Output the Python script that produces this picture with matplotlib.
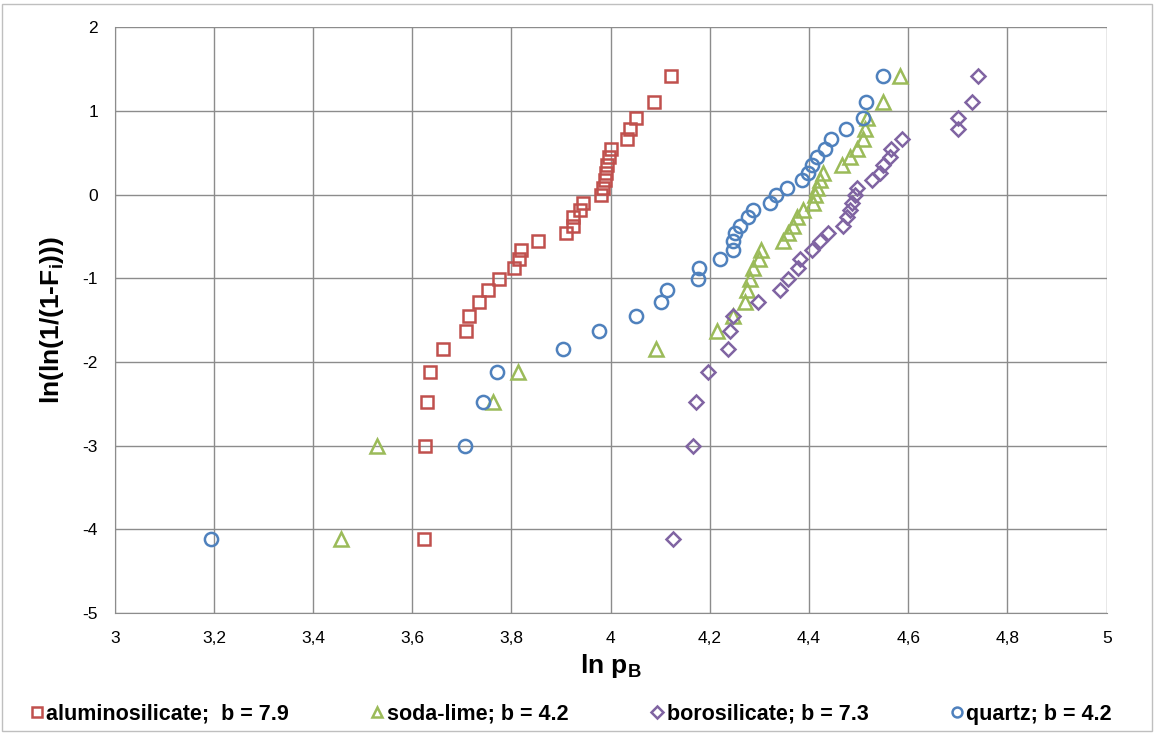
import matplotlib
matplotlib.use("Agg")
import matplotlib.pyplot as plt
from matplotlib.patches import Rectangle

plt.rcParams['font.family'] = ['Liberation Sans', 'DejaVu Sans']
plt.rcParams['mathtext.fontset'] = 'custom'
plt.rcParams['mathtext.rm'] = 'Liberation Sans'
plt.rcParams['mathtext.bf'] = 'Liberation Sans:bold'
plt.rcParams['axes.unicode_minus'] = False

# shared ranks, ln(ln(1/(1-Fi)))
y_rank = [-4.12, -3.00, -2.48, -2.12, -1.85, -1.63, -1.45, -1.28, -1.14, -1.01,
          -0.88, -0.77, -0.66, -0.56, -0.46, -0.37, -0.27, -0.18, -0.10, -0.01,
          0.08, 0.17, 0.26, 0.35, 0.45, 0.55, 0.66, 0.78, 0.92, 1.11, 1.42]

x_alumino = [3.624, 3.626, 3.630, 3.636, 3.661, 3.708, 3.715, 3.734, 3.753, 3.775,
             3.806, 3.815, 3.820, 3.854, 3.910, 3.923, 3.925, 3.938, 3.945, 3.980,
             3.985, 3.988, 3.990, 3.993, 3.996, 4.000, 4.032, 4.039, 4.052, 4.087, 4.122]
x_soda = [3.456, 3.529, 3.763, 3.814, 4.091, 4.214, 4.247, 4.271, 4.274, 4.281,
          4.287, 4.298, 4.304, 4.348, 4.358, 4.368, 4.375, 4.388, 4.408, 4.412,
          4.415, 4.422, 4.429, 4.466, 4.483, 4.496, 4.509, 4.512, 4.516, 4.550, 4.583]
x_boro = [4.126, 4.165, 4.172, 4.196, 4.237, 4.241, 4.247, 4.296, 4.341, 4.358,
          4.378, 4.382, 4.405, 4.422, 4.439, 4.469, 4.476, 4.483, 4.487, 4.492,
          4.496, 4.526, 4.543, 4.550, 4.563, 4.565, 4.587, 4.701, 4.701, 4.728, 4.741]
x_quartz = [3.194, 3.706, 3.742, 3.771, 3.904, 3.977, 4.052, 4.101, 4.113, 4.177,
            4.179, 4.220, 4.247, 4.247, 4.250, 4.261, 4.277, 4.287, 4.321, 4.334,
            4.355, 4.385, 4.398, 4.405, 4.415, 4.432, 4.445, 4.475, 4.508, 4.515, 4.549]

labels = ['aluminosilicate;  b = 7.9', 'soda-lime; b = 4.2',
          'borosilicate; b = 7.3', 'quartz; b = 4.2']

x_ticks = [3.0, 3.2, 3.4, 3.6, 3.8, 4.0, 4.2, 4.4, 4.6, 4.8, 5.0]
x_tick_labels = ['3', '3,2', '3,4', '3,6', '3,8', '4', '4,2', '4,4', '4,6', '4,8', '5']
y_ticks = [2, 1, 0, -1, -2, -3, -4, -5]

series = [
    (x_alumino, 's', '#C0504D', 9.0),
    (x_soda, '^', '#9BBB59', 10.0),
    (x_boro, 'D', '#8064A2', 7.5),
    (x_quartz, 'o', '#4F81BD', 9.5),
]

fig = plt.figure(figsize=(11.54, 7.35), dpi=100)
ax = fig.add_axes([0.0994, 0.166, 0.8596, 0.797])

handles = []
for xs, mk, col, ms in series:
    h, = ax.plot(xs, y_rank, linestyle='none', marker=mk, markersize=ms,
                 markerfacecolor='none', markeredgecolor=col, markeredgewidth=1.8)
    handles.append(h)

ax.set_xlim(3, 5)
ax.set_ylim(-5, 2)
ax.set_xticks(x_ticks)
ax.set_xticklabels(x_tick_labels)
ax.set_yticks(y_ticks)
ax.tick_params(labelsize=12.5, length=0)
ax.tick_params(axis='x', pad=13)
ax.tick_params(axis='y', pad=12)
ax.grid(True, color='#8c8c8c', linewidth=1.0)
ax.set_axisbelow(True)
for side in ['top', 'right']:
    ax.spines[side].set_visible(False)
for side in ['left', 'bottom']:
    ax.spines[side].set_color('#8c8c8c')

ax.set_ylabel('ln(ln(1/(1-F$_\\mathbf{i}$)))', fontsize=19, fontweight='bold', labelpad=12)
ax.set_xlabel('ln p$_\\mathbf{B}$', fontsize=19, fontweight='bold', labelpad=4)

leg = fig.legend(handles, labels, loc='center', bbox_to_anchor=(0.494, 0.028),
                 ncol=4, frameon=False, prop={'weight': 'bold', 'size': 15.5},
                 markerscale=0.75, handletextpad=0.05, columnspacing=3.7,
                 handlelength=0.8)

fig.patches.append(Rectangle((0.002, 0.005), 0.996, 0.99, transform=fig.transFigure,
                             fill=False, edgecolor='#bfbfbf', linewidth=1.0))

fig.savefig('out.png', dpi=100)
